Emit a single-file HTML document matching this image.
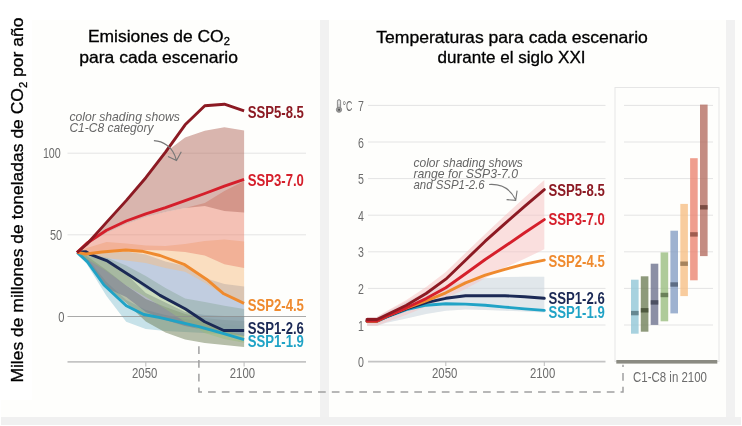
<!DOCTYPE html>
<html lang="es"><head><meta charset="utf-8"><title>Escenarios SSP</title>
<style>html,body{margin:0;padding:0;background:#fff;}body{width:742px;height:426px;overflow:hidden;font-family:"Liberation Sans",sans-serif;}svg{display:block;will-change:transform;}text{font-family:"Liberation Sans",sans-serif;}</style>
</head><body>
<svg width="742" height="426" viewBox="0 0 742 426">
<rect x="0" y="0" width="742" height="426" fill="#ffffff"/>
<rect x="1" y="20" width="740" height="397" fill="#fefefc"/>
<rect x="1" y="0" width="31" height="400" fill="#ffffff"/>
<rect x="320" y="20" width="9" height="397" fill="#f1f1f1"/>
<rect x="726" y="20" width="9" height="397" fill="#f1f1f1"/>
<rect x="1" y="417" width="740" height="8" fill="#f0f0f0"/>
<line x1="67.5" x2="306" y1="153.2" y2="153.2" stroke="#e4e4e4" stroke-width="1"/>
<line x1="67.5" x2="306" y1="234.8" y2="234.8" stroke="#e4e4e4" stroke-width="1"/>
<g>
<polygon points="77.0,252.2 86.8,258.0 106.5,282.0 126.2,300.0 145.8,310.0 165.5,315.0 185.1,319.0 204.8,322.0 224.4,324.0 244.1,326.0 244.1,336.0 224.4,334.5 204.8,333.0 185.1,332.0 165.5,331.0 145.8,329.0 126.2,321.7 106.5,296.0 86.8,264.0 77.0,252.2" fill="rgb(144,197,214)" fill-opacity="0.5"/>
<polygon points="77.0,252.2 86.8,256.0 106.5,270.0 126.2,285.4 145.8,299.0 165.5,307.0 185.1,314.0 204.8,318.0 224.4,320.0 244.1,321.0 244.1,347.0 224.4,345.0 204.8,343.0 185.1,339.5 165.5,332.5 145.8,321.5 126.2,303.0 106.5,287.0 86.8,262.0 77.0,252.2" fill="rgb(110,125,86)" fill-opacity="0.5"/>
<polygon points="77.0,252.2 86.8,255.0 106.5,262.0 126.2,274.0 145.8,293.0 165.5,302.5 185.1,312.0 204.8,315.0 224.4,316.0 244.1,316.0 244.1,335.8 224.4,333.0 204.8,330.0 185.1,326.0 165.5,320.0 145.8,312.0 126.2,297.0 106.5,288.0 86.8,262.0 77.0,252.2" fill="rgb(106,112,140)" fill-opacity="0.5"/>
<polygon points="77.0,252.2 86.8,254.0 106.5,257.5 126.2,265.5 145.8,276.0 165.5,288.0 185.1,298.6 204.8,302.0 224.4,305.7 244.1,309.0 244.1,342.8 224.4,339.0 204.8,333.0 185.1,322.0 165.5,309.0 145.8,297.0 126.2,285.4 106.5,271.0 86.8,259.0 77.0,252.2" fill="rgb(153,188,125)" fill-opacity="0.5"/>
<polygon points="77.0,252.2 86.8,253.5 106.5,253.0 126.2,251.5 145.8,254.5 165.5,261.5 185.1,266.0 204.8,278.0 224.4,284.0 244.1,286.6 244.1,335.8 224.4,330.0 204.8,322.0 185.1,309.0 165.5,297.0 145.8,289.0 126.2,273.0 106.5,262.0 86.8,255.0 77.0,252.2" fill="rgb(131,156,195)" fill-opacity="0.5"/>
<polygon points="77.0,252.2 86.8,248.0 106.5,242.0 126.2,243.5 145.8,245.5 165.5,246.0 185.1,244.0 204.8,241.0 224.4,239.6 244.1,241.5 244.1,301.0 224.4,295.4 204.8,282.7 185.1,271.8 165.5,268.0 145.8,263.0 126.2,260.6 106.5,258.0 86.8,254.0 77.0,252.2" fill="rgb(246,190,131)" fill-opacity="0.5"/>
<polygon points="77.0,252.2 86.8,245.0 106.5,233.0 126.2,224.0 145.8,217.0 165.5,212.0 185.1,208.0 204.8,203.0 224.4,191.0 244.1,181.0 244.1,268.0 224.4,264.3 204.8,255.5 185.1,252.0 165.5,250.4 145.8,250.0 126.2,251.0 106.5,252.5 86.8,253.0 77.0,252.2" fill="rgb(234,131,110)" fill-opacity="0.5"/>
<polygon points="77.0,252.2 86.8,244.2 106.5,222.4 126.2,200.5 145.8,177.7 165.5,152.3 185.1,137.6 204.8,130.7 224.4,127.2 244.1,130.5 244.1,212.5 224.4,211.0 204.8,206.0 185.1,208.0 165.5,212.0 145.8,217.0 126.2,224.0 106.5,233.0 86.8,245.0 77.0,252.2" fill="rgb(179,108,95)" fill-opacity="0.5"/>
</g>
<line x1="67.5" x2="306" y1="316.5" y2="316.5" stroke="#8e8e8e" stroke-opacity="0.75" stroke-width="1"/>
<line x1="67.5" x2="306" y1="361.9" y2="361.9" stroke="#c4c4c4" stroke-width="1.6"/>
<line x1="145.8" x2="145.8" y1="362" y2="366.5" stroke="#bdbdbd" stroke-width="1"/>
<line x1="244.1" x2="244.1" y1="362" y2="366.5" stroke="#bdbdbd" stroke-width="1"/>
<path d="M77.2 252.5 L87.5 262.0 L104.0 285.0 L126.3 305.7 L143.8 314.5 L160.0 317.7 L199.9 326.8 L223.8 333.7 L244.1 339.6" fill="none" stroke="#20a3c6" stroke-width="2.9" stroke-linejoin="round" stroke-linecap="butt"/>
<path d="M77.2 252.3 L86.0 251.8 L90.2 254.4 L106.6 260.6 L121.3 269.9 L133.8 278.0 L146.2 286.1 L160.0 295.4 L185.5 309.0 L204.7 321.7 L223.8 330.5 L244.1 330.5" fill="none" stroke="#1b2955" stroke-width="2.9" stroke-linejoin="round" stroke-linecap="butt"/>
<path d="M77.2 252.3 L86.0 254.0 L102.0 252.0 L125.8 250.0 L141.8 251.2 L160.0 255.5 L184.0 264.3 L207.9 280.3 L223.8 293.8 L244.1 303.4" fill="none" stroke="#ef8a2e" stroke-width="2.9" stroke-linejoin="round" stroke-linecap="butt"/>
<path d="M77.0 252.6 L86.8 243.3 L106.5 230.3 L126.2 221.0 L145.8 213.8 L165.5 207.7 L185.1 200.7 L204.8 193.5 L224.4 186.2 L244.1 179.3" fill="none" stroke="#d51f2b" stroke-width="2.9" stroke-linejoin="round" stroke-linecap="butt"/>
<path d="M77.0 252.5 L86.8 244.2 L106.5 222.4 L126.2 200.6 L145.8 177.7 L165.5 152.2 L185.1 124.8 L204.8 105.8 L224.4 104.2 L244.1 110.9" fill="none" stroke="#8c1a23" stroke-width="2.9" stroke-linejoin="round" stroke-linecap="butt"/>
<line x1="368" x2="605.5" y1="325.0" y2="325.0" stroke="#e4e4e4" stroke-width="1"/>
<line x1="368" x2="605.5" y1="288.4" y2="288.4" stroke="#e4e4e4" stroke-width="1"/>
<line x1="368" x2="605.5" y1="251.8" y2="251.8" stroke="#e4e4e4" stroke-width="1"/>
<line x1="368" x2="605.5" y1="215.2" y2="215.2" stroke="#e4e4e4" stroke-width="1"/>
<line x1="368" x2="605.5" y1="178.6" y2="178.6" stroke="#e4e4e4" stroke-width="1"/>
<line x1="368" x2="605.5" y1="142.0" y2="142.0" stroke="#e4e4e4" stroke-width="1"/>
<line x1="368" x2="605.5" y1="105.4" y2="105.4" stroke="#e4e4e4" stroke-width="1"/>
<line x1="368" x2="605.5" y1="361.6" y2="361.6" stroke="#c4c4c4" stroke-width="1.6"/>
<line x1="445.8" x2="445.8" y1="361.6" y2="366" stroke="#bdbdbd" stroke-width="1"/>
<line x1="544.3" x2="544.3" y1="361.6" y2="366" stroke="#bdbdbd" stroke-width="1"/>
<polygon points="367.0,316.9 376.9,316.9 386.7,311.8 406.4,301.6 426.1,292.1 445.8,285.5 465.5,281.1 485.2,278.2 504.9,277.1 524.6,276.7 544.3,276.7 544.3,312.4 524.6,311.5 504.9,310.7 485.2,310.0 465.5,309.6 445.8,310.7 426.1,314.0 406.4,318.4 386.7,322.8 376.9,325.7 367.0,325.7" fill="#c9d3dc" fill-opacity="0.55"/>
<polygon points="367.0,316.9 376.9,316.9 386.7,311.1 406.4,300.1 426.1,286.9 445.8,271.9 465.5,252.9 485.2,233.9 504.9,215.6 524.6,197.6 544.3,180.1 544.3,249.2 524.6,258.8 504.9,267.5 485.2,278.2 465.5,289.1 445.8,298.3 426.1,306.7 406.4,314.8 386.7,322.1 376.9,325.7 367.0,325.7" fill="#f6c5c5" fill-opacity="0.55"/>
<path d="M367.0 321.3 L376.9 321.3 L386.7 316.9 L406.4 309.6 L426.1 305.2 L445.8 303.8 L465.5 304.1 L485.2 305.2 L504.9 307.1 L524.6 308.9 L544.3 310.4" fill="none" stroke="#20a3c6" stroke-width="2.9" stroke-linejoin="round" stroke-linecap="round"/>
<path d="M367.0 321.3 L376.9 321.3 L386.7 316.6 L406.4 308.9 L426.1 302.7 L445.8 298.3 L465.5 295.7 L485.2 295.7 L504.9 295.7 L524.6 296.8 L544.3 298.3" fill="none" stroke="#1b2955" stroke-width="2.9" stroke-linejoin="round" stroke-linecap="round"/>
<path d="M367.0 321.3 L376.9 321.3 L386.7 316.2 L406.4 308.2 L426.1 300.8 L445.8 292.8 L465.5 282.9 L485.2 275.2 L504.9 269.4 L524.6 264.2 L544.3 260.2" fill="none" stroke="#ef8a2e" stroke-width="2.9" stroke-linejoin="round" stroke-linecap="round"/>
<path d="M367.0 321.0 L376.9 321.0 L386.7 316.2 L406.4 307.8 L426.1 298.6 L445.8 287.7 L465.5 273.8 L485.2 259.5 L504.9 246.3 L524.6 232.8 L544.3 219.6" fill="none" stroke="#d51f2b" stroke-width="2.9" stroke-linejoin="round" stroke-linecap="round"/>
<path d="M367.0 319.5 L376.9 319.5 L386.7 314.8 L406.4 305.2 L426.1 293.5 L445.8 279.2 L465.5 260.2 L485.2 241.2 L504.9 223.6 L524.6 206.4 L544.3 189.6" fill="none" stroke="#8c1a23" stroke-width="2.9" stroke-linejoin="round" stroke-linecap="round"/>
<rect x="615" y="87.5" width="104" height="274" fill="none" stroke="#e6e6e6" stroke-width="1"/>
<line x1="624" x2="713" y1="325.0" y2="325.0" stroke="#e4e4e4" stroke-width="1"/>
<line x1="624" x2="713" y1="288.4" y2="288.4" stroke="#e4e4e4" stroke-width="1"/>
<line x1="624" x2="713" y1="251.8" y2="251.8" stroke="#e4e4e4" stroke-width="1"/>
<line x1="624" x2="713" y1="215.2" y2="215.2" stroke="#e4e4e4" stroke-width="1"/>
<line x1="624" x2="713" y1="178.6" y2="178.6" stroke="#e4e4e4" stroke-width="1"/>
<line x1="624" x2="713" y1="142.0" y2="142.0" stroke="#e4e4e4" stroke-width="1"/>
<line x1="624" x2="713" y1="105.4" y2="105.4" stroke="#e4e4e4" stroke-width="1"/>
<rect x="631.0" y="279.7" width="7.6" height="54.0" fill="rgb(144,197,214)" fill-opacity="0.78"/>
<rect x="631.0" y="310.9" width="7.6" height="4.4" fill="rgb(89,122,132)" fill-opacity="0.85"/>
<rect x="640.8" y="276.3" width="7.6" height="55.4" fill="rgb(110,125,86)" fill-opacity="0.78"/>
<rect x="640.8" y="308.1" width="7.6" height="4.4" fill="rgb(68,77,53)" fill-opacity="0.85"/>
<rect x="650.7" y="263.7" width="7.6" height="61.2" fill="rgb(106,112,140)" fill-opacity="0.78"/>
<rect x="650.7" y="300.2" width="7.6" height="4.4" fill="rgb(65,69,86)" fill-opacity="0.85"/>
<rect x="660.6" y="252.4" width="7.6" height="68.9" fill="rgb(153,188,125)" fill-opacity="0.78"/>
<rect x="660.6" y="292.8" width="7.6" height="4.4" fill="rgb(94,116,77)" fill-opacity="0.85"/>
<rect x="670.4" y="230.7" width="7.6" height="82.7" fill="rgb(131,156,195)" fill-opacity="0.78"/>
<rect x="670.4" y="282.3" width="7.6" height="4.4" fill="rgb(81,96,120)" fill-opacity="0.85"/>
<rect x="680.3" y="203.9" width="7.6" height="92.2" fill="rgb(246,190,131)" fill-opacity="0.78"/>
<rect x="680.3" y="261.5" width="7.6" height="4.4" fill="rgb(152,117,81)" fill-opacity="0.85"/>
<rect x="690.1" y="158.2" width="7.6" height="122.1" fill="rgb(234,131,110)" fill-opacity="0.78"/>
<rect x="690.1" y="232.2" width="7.6" height="4.4" fill="rgb(145,81,68)" fill-opacity="0.85"/>
<rect x="700.0" y="104.6" width="7.6" height="151.5" fill="rgb(179,108,95)" fill-opacity="0.78"/>
<rect x="700.0" y="205.1" width="7.6" height="4.4" fill="rgb(110,66,58)" fill-opacity="0.85"/>
<rect x="616.3" y="360" width="101" height="3.6" fill="#8b8b82"/>
<path d="M198.9 345.4 V392.1 H623 V364.8" fill="none" stroke="#a0a0a0" stroke-width="1.5" stroke-dasharray="7.7 6.05" stroke-dashoffset="12.9"/>
<text x="60.8" y="158.4" font-size="14.2" fill="#6c6c6c" text-anchor="end" font-weight="400" font-style="normal" textLength="17.9" lengthAdjust="spacingAndGlyphs">100</text>
<text x="62.2" y="239.8" font-size="14.2" fill="#6c6c6c" text-anchor="end" font-weight="400" font-style="normal" textLength="12.2" lengthAdjust="spacingAndGlyphs">50</text>
<text x="64.5" y="321.7" font-size="14.2" fill="#6c6c6c" text-anchor="end" font-weight="400" font-style="normal" textLength="6.2" lengthAdjust="spacingAndGlyphs">0</text>
<text x="144.7" y="378" font-size="14.2" fill="#6c6c6c" text-anchor="middle" font-weight="400" font-style="normal" textLength="25.3" lengthAdjust="spacingAndGlyphs">2050</text>
<text x="242.4" y="378" font-size="14.2" fill="#6c6c6c" text-anchor="middle" font-weight="400" font-style="normal" textLength="25.2" lengthAdjust="spacingAndGlyphs">2100</text>
<text x="363.8" y="367.1" font-size="14.2" fill="#6c6c6c" text-anchor="end" font-weight="400" font-style="normal" textLength="5.9" lengthAdjust="spacingAndGlyphs">0</text>
<text x="363.8" y="330.5" font-size="14.2" fill="#6c6c6c" text-anchor="end" font-weight="400" font-style="normal" textLength="5.9" lengthAdjust="spacingAndGlyphs">1</text>
<text x="363.8" y="293.9" font-size="14.2" fill="#6c6c6c" text-anchor="end" font-weight="400" font-style="normal" textLength="5.9" lengthAdjust="spacingAndGlyphs">2</text>
<text x="363.8" y="257.3" font-size="14.2" fill="#6c6c6c" text-anchor="end" font-weight="400" font-style="normal" textLength="5.9" lengthAdjust="spacingAndGlyphs">3</text>
<text x="363.8" y="220.7" font-size="14.2" fill="#6c6c6c" text-anchor="end" font-weight="400" font-style="normal" textLength="5.9" lengthAdjust="spacingAndGlyphs">4</text>
<text x="363.8" y="184.1" font-size="14.2" fill="#6c6c6c" text-anchor="end" font-weight="400" font-style="normal" textLength="5.9" lengthAdjust="spacingAndGlyphs">5</text>
<text x="363.8" y="147.5" font-size="14.2" fill="#6c6c6c" text-anchor="end" font-weight="400" font-style="normal" textLength="5.9" lengthAdjust="spacingAndGlyphs">6</text>
<text x="363.8" y="110.9" font-size="14.2" fill="#6c6c6c" text-anchor="end" font-weight="400" font-style="normal" textLength="5.9" lengthAdjust="spacingAndGlyphs">7</text>
<text x="444.7" y="378" font-size="14.2" fill="#6c6c6c" text-anchor="middle" font-weight="400" font-style="normal" textLength="25.3" lengthAdjust="spacingAndGlyphs">2050</text>
<text x="542.6" y="378" font-size="14.2" fill="#6c6c6c" text-anchor="middle" font-weight="400" font-style="normal" textLength="25.2" lengthAdjust="spacingAndGlyphs">2100</text>
<text x="342.4" y="111.4" font-size="14.2" fill="#6c6c6c" text-anchor="start" font-weight="400" font-style="normal" textLength="9.9" lengthAdjust="spacingAndGlyphs">°C</text>
<rect x="337.4" y="99.6" width="3.2" height="9.5" rx="1.6" fill="#cfcfcf" stroke="#858585" stroke-width="0.9"/><circle cx="339" cy="109.7" r="2.6" fill="#9c9c9c" stroke="#858585" stroke-width="0.9"/><rect x="338.2" y="108.9" width="1.7" height="1.7" fill="#505050"/><line x1="339" x2="339" y1="101.2" y2="104" stroke="#ffffff" stroke-width="0.9"/>
<text x="670" y="382.2" font-size="14.2" fill="#6c6c6c" text-anchor="middle" font-weight="400" font-style="normal" textLength="74" lengthAdjust="spacingAndGlyphs">C1-C8 in 2100</text>
<text x="247.7" y="117.7" font-size="15.6" fill="#8c1a23" text-anchor="start" font-weight="700" font-style="normal" textLength="56.2" lengthAdjust="spacingAndGlyphs">SSP5-8.5</text>
<text x="247.7" y="185.8" font-size="15.6" fill="#d51f2b" text-anchor="start" font-weight="700" font-style="normal" textLength="56.2" lengthAdjust="spacingAndGlyphs">SSP3-7.0</text>
<text x="247.7" y="310.8" font-size="15.6" fill="#ef8a2e" text-anchor="start" font-weight="700" font-style="normal" textLength="56.2" lengthAdjust="spacingAndGlyphs">SSP2-4.5</text>
<text x="247.7" y="333.9" font-size="15.6" fill="#1b2955" text-anchor="start" font-weight="700" font-style="normal" textLength="56.2" lengthAdjust="spacingAndGlyphs">SSP1-2.6</text>
<text x="247.7" y="347.3" font-size="15.6" fill="#20a3c6" text-anchor="start" font-weight="700" font-style="normal" textLength="56.2" lengthAdjust="spacingAndGlyphs">SSP1-1.9</text>
<text x="548.5" y="195.9" font-size="15.6" fill="#8c1a23" text-anchor="start" font-weight="700" font-style="normal" textLength="56.2" lengthAdjust="spacingAndGlyphs">SSP5-8.5</text>
<text x="548.5" y="224.9" font-size="15.6" fill="#d51f2b" text-anchor="start" font-weight="700" font-style="normal" textLength="56.2" lengthAdjust="spacingAndGlyphs">SSP3-7.0</text>
<text x="548.5" y="267.0" font-size="15.6" fill="#ef8a2e" text-anchor="start" font-weight="700" font-style="normal" textLength="56.2" lengthAdjust="spacingAndGlyphs">SSP2-4.5</text>
<text x="548.5" y="303.6" font-size="15.6" fill="#1b2955" text-anchor="start" font-weight="700" font-style="normal" textLength="56.2" lengthAdjust="spacingAndGlyphs">SSP1-2.6</text>
<text x="548.5" y="318.0" font-size="15.6" fill="#20a3c6" text-anchor="start" font-weight="700" font-style="normal" textLength="56.2" lengthAdjust="spacingAndGlyphs">SSP1-1.9</text>
<text x="69.4" y="120.8" font-size="13" fill="#666666" text-anchor="start" font-weight="400" font-style="italic" textLength="110.5" lengthAdjust="spacingAndGlyphs">color shading shows</text>
<text x="69.4" y="132.1" font-size="13" fill="#666666" text-anchor="start" font-weight="400" font-style="italic" textLength="84" lengthAdjust="spacingAndGlyphs">C1-C8 category</text>
<path d="M153.9 140.6 C162 141 173 146 176.3 160 M168 156.6 L176.5 160.5 L181.3 151.8" fill="none" stroke="#777" stroke-width="1.1"/>
<text x="413.4" y="166.6" font-size="13" fill="#666666" text-anchor="start" font-weight="400" font-style="italic" textLength="109.3" lengthAdjust="spacingAndGlyphs">color shading shows</text>
<text x="413.4" y="178" font-size="13" fill="#666666" text-anchor="start" font-weight="400" font-style="italic" textLength="104.6" lengthAdjust="spacingAndGlyphs">range for SSP3-7.0</text>
<text x="413.4" y="189.4" font-size="13" fill="#666666" text-anchor="start" font-weight="400" font-style="italic" textLength="71.3" lengthAdjust="spacingAndGlyphs">and SSP1-2.6</text>
<path d="M489.1 184.5 C497 184 509 186 515.5 199.6 M506.6 199.6 L515.7 200.3 L517.1 190.6" fill="none" stroke="#777" stroke-width="1.1"/>
<text x="87.9" y="41.6" font-size="16.5" fill="#000000" stroke="#000000" stroke-width="0.3" textLength="142" lengthAdjust="spacingAndGlyphs">Emisiones de CO<tspan font-size="10.5" dy="3.5">2</tspan></text>
<text x="79.2" y="62.9" font-size="16.5" fill="#000000" text-anchor="start" font-weight="400" font-style="normal" textLength="158.8" lengthAdjust="spacingAndGlyphs" stroke="#000" stroke-width="0.3">para cada escenario</text>
<text x="376.2" y="43" font-size="16.5" fill="#000000" text-anchor="start" font-weight="400" font-style="normal" textLength="271.7" lengthAdjust="spacingAndGlyphs" stroke="#000" stroke-width="0.3">Temperaturas para cada escenario</text>
<text x="437.6" y="62.5" font-size="16.5" fill="#000000" text-anchor="start" font-weight="400" font-style="normal" textLength="148" lengthAdjust="spacingAndGlyphs" stroke="#000" stroke-width="0.3">durante el siglo XXI</text>
<text transform="translate(23.3,382.6) rotate(-90)" font-size="17" fill="#000000" stroke="#000000" stroke-width="0.3" textLength="365" lengthAdjust="spacingAndGlyphs">Miles de millones de toneladas de CO<tspan font-size="11" dy="3.5">2</tspan><tspan dy="-3.5"> por año</tspan></text>
</svg>
</body></html>
